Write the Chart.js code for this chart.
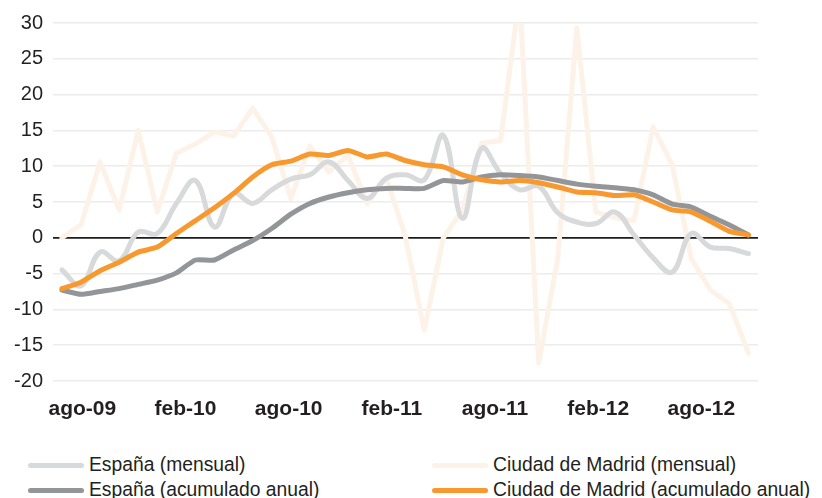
<!DOCTYPE html>
<html><head><meta charset="utf-8">
<script src="https://cdn.jsdelivr.net/npm/chart.js@4.4.1/dist/chart.umd.min.js"></script>
<style>
html,body{margin:0;padding:0;background:#fff;}
#wrap{position:relative;width:822px;height:498px;overflow:hidden;font-family:"Liberation Sans",Arial,sans-serif;}
#cv{position:absolute;left:0;top:0;}
.li{position:absolute;height:24px;display:flex;align-items:center;font-size:19.3px;color:#231f20;white-space:nowrap;}
.sw{display:inline-block;width:56px;height:5px;border-radius:2.5px;margin-right:5px;}
</style></head><body>
<div id="wrap"><canvas id="cv" width="822" height="440"></canvas><div id="legend"></div></div>
<script>
// Period index (monthly observations) and x-axis tick labels
const periods = Array.from({length: 37}, (_, i) => i);
const xTickLabels = ['ago-09', 'feb-10', 'ago-10', 'feb-11', 'ago-11', 'feb-12', 'ago-12'];
const yTicks = [-20, -15, -10, -5, 0, 5, 10, 15, 20, 25, 30];

const seriesNames = ['España (mensual)', 'Ciudad de Madrid (mensual)', 'España (acumulado anual)', 'Ciudad de Madrid (acumulado anual)'];

const espanaMensual = [-4.5, -6.7, -2.0, -3.2, 0.8, 0.6, 4.8, 8.0, 1.5, 6.2, 4.8, 6.7, 8.2, 8.8, 10.6, 8.0, 5.5, 8.3, 8.8, 8.1, 14.3, 2.7, 12.5, 9.0, 6.7, 7.2, 3.5, 2.2, 2.0, 3.6, 0.4, -2.8, -4.8, 0.6, -1.3, -1.5, -2.2];
const espanaAcum = [-7.3, -7.9, -7.5, -7.1, -6.5, -5.9, -4.9, -3.1, -3.1, -1.7, -0.4, 1.3, 3.3, 4.8, 5.7, 6.3, 6.7, 6.9, 6.9, 6.9, 8.0, 7.8, 8.5, 8.8, 8.7, 8.5, 8.0, 7.5, 7.2, 7.0, 6.7, 6.0, 4.7, 4.3, 3.0, 1.8, 0.4];
const madridMensual = [0, 1.8, 10.6, 3.9, 15.0, 3.6, 11.8, 13.1, 14.8, 14.2, 18.1, 14.1, 5.5, 12.8, 9.2, 11.5, 4.8, 8.4, 0.3, -12.9, 0.0, 3.9, 13.2, 13.6, 34, -17.5, -2.9, 29.3, 3.6, 2.8, 2.4, 15.5, 10.2, -2.9, -7.3, -9.2, -16.1];
const madridAcum = [-7.1, -6.2, -4.6, -3.4, -2.0, -1.3, 0.6, 2.4, 4.2, 6.2, 8.5, 10.2, 10.7, 11.7, 11.5, 12.2, 11.3, 11.7, 10.8, 10.2, 9.9, 8.8, 8.1, 7.8, 8.0, 7.7, 7.1, 6.4, 6.3, 5.9, 6.0, 5.0, 3.9, 3.6, 2.3, 0.9, 0.4];

const colors = {
  espanaMensual: '#d8d9db',
  madridMensual: '#fdf2e8',
  espanaAcum: '#939598',
  madridAcum: '#f7992e'
};

const toXY = arr => arr.map((v, i) => ({x: periods[i], y: v}));

const common = {pointRadius: 0, pointHoverRadius: 0, borderWidth: 5, fill: false, borderCapStyle: 'round', borderJoinStyle: 'round'};

const datasets = [
  Object.assign({}, common, {label: seriesNames[0], data: toXY(espanaMensual), borderColor: colors.espanaMensual, tension: 0.4, order: 2}),
  Object.assign({}, common, {label: seriesNames[1], data: toXY(madridMensual), borderColor: colors.madridMensual, tension: 0, order: 3, clip: 0}),
  Object.assign({}, common, {label: seriesNames[2], data: toXY(espanaAcum), borderColor: colors.espanaAcum, tension: 0.2, order: 1}),
  Object.assign({}, common, {label: seriesNames[3], data: toXY(madridAcum), borderColor: colors.madridAcum, tension: 0.2, order: 0})
];

const textColor = '#231f20';

new Chart(document.getElementById('cv'), {
  type: 'line',
  data: {datasets},
  options: {
    responsive: false,
    animation: false,
    devicePixelRatio: 1,
    layout: {padding: {top: 23, right: 64, left: 0, bottom: 0}},
    plugins: {legend: {display: false}, tooltip: {enabled: false}},
    scales: {
      x: {
        type: 'linear',
        min: -0.47,
        max: 36.5,
        afterBuildTicks: s => { s.ticks = xTickLabels.map((_, k) => ({value: 1.07 + 5.41 * k})); },
        afterFit: s => { s.height = 59; },
        grid: {display: false, drawTicks: false},
        border: {display: false},
        ticks: {
          autoSkip: false, maxRotation: 0, padding: 16,
          color: textColor,
          font: {family: '"Liberation Sans", Arial, sans-serif', size: 21, weight: 'bold'},
          callback: (v, i) => xTickLabels[i]
        }
      },
      y: {
        min: -20, max: 30,
        afterBuildTicks: s => { s.ticks = yTicks.map(v => ({value: v})); },
        afterFit: s => { s.width = 53; },
        border: {display: false},
        grid: {
          drawTicks: false,
          color: c => (c.tick && c.tick.value === 0) ? '#1d1d1b' : '#ececec',
          lineWidth: c => (c.tick && c.tick.value === 0) ? 1.7 : 1.5
        },
        ticks: {
          padding: 10, color: textColor,
          font: {family: '"Liberation Sans", Arial, sans-serif', size: 20}
        }
      }
    }
  }
});

// HTML legend (two columns, two rows)
const legendLayout = [
  {name: seriesNames[0], color: colors.espanaMensual, left: 28, top: 453},
  {name: seriesNames[1], color: colors.madridMensual, left: 432, top: 453},
  {name: seriesNames[2], color: colors.espanaAcum, left: 28, top: 478},
  {name: seriesNames[3], color: colors.madridAcum, left: 432, top: 478}
];
const lg = document.getElementById('legend');
legendLayout.forEach(it => {
  const d = document.createElement('div');
  d.className = 'li';
  d.style.left = it.left + 'px';
  d.style.top = it.top + 'px';
  const sw = document.createElement('span');
  sw.className = 'sw';
  sw.style.background = it.color;
  const t = document.createElement('span');
  t.textContent = it.name;
  d.appendChild(sw); d.appendChild(t);
  lg.appendChild(d);
});
</script></body></html>
